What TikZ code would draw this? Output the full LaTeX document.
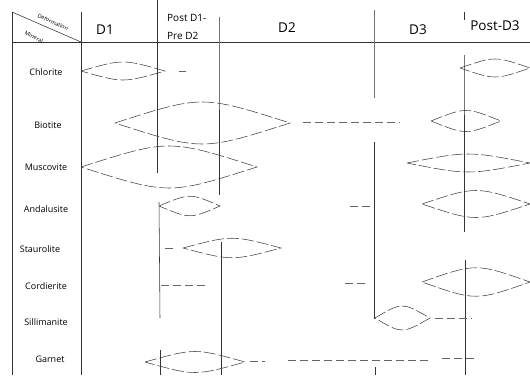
\documentclass[tikz,border=0pt]{standalone}
\usepackage{fontspec}
\setmainfont{Open Sans}
\usetikzlibrary{positioning}

\begin{document}
\begin{tikzpicture}[
    x=1pt, y=-1pt,
    rule/.style={draw=black!80, line width=0.55pt},
    lens/.style={draw=black!75, line width=0.55pt, dash pattern=on 12pt off 3pt},
    trend/.style={draw=black!60, line width=0.6pt, dash pattern=on 8pt off 4pt},
    minlabel/.style={font=\fontsize{9}{10}\selectfont},
    phase/.style={font=\fontsize{13.5}{15}\selectfont},
    subphase/.style={font=\fontsize{10}{12}\selectfont, anchor=west, inner sep=0pt},
    headtag/.style={font=\fontsize{5.5}{6}\selectfont, rotate=-24, inner sep=0pt}
]
    \useasboundingbox (0,0) rectangle (530,375);

    % Header
    \draw[rule] (12,42) -- (530,42);
    \draw[rule] (12,12) -- (81,42);
    \node[headtag] (def) at (53,22) {Deformation};
    \node[headtag] (min) at (34,37) {Mineral};
    \node[phase] (d1) at (105,30) {D1};
    \node[subphase] (post1) at (167,18) {Post D1-};
    \node[subphase] (pre2) at (167,36) {Pre D2};
    \node[phase] (d2) at (287,28) {D2};
    \node[phase] (d3) at (418,30) {D3};
    \node[phase] (postd3) at (495,26) {Post-D3};

    % Mineral labels
    \foreach \name/\x/\y in {Chlorite/46/72, Biotite/48/125, Muscovite/46/167,
        Andalusite/46/209, Staurolite/40/249, Cordierite/46/286,
        Sillimanite/46/322, Garnet/50/359} {
        \node[minlabel] (\name) at (\x,\y) {\name};
    }

    % Column rules
    \draw[rule] (12,12) -- (12,375);
    \draw[rule] (81,12) -- (81,375);
    \draw[rule] (157,0) -- (157,173);
    \draw[rule] (159,202) -- (160,318);
    \draw[rule] (160,350) -- (160,375);
    \draw[rule, draw=black!55] (219,17) -- (219,110);
    \draw[rule] (219,110) -- (219,195);
    \draw[rule] (221,242) -- (221,375);
    \draw[rule, draw=black!55] (374,10) -- (374,98);
    \draw[rule] (374,142) -- (374,319);
    \draw[rule] (375,367) -- (375,375);
    \draw[rule] (464,12) -- (464,20);
    \draw[rule, draw=black!55] (464,55) -- (464,115);
    \draw[rule] (464,115) -- (464,232);
    \draw[rule] (465,260) -- (465,375);

    % Chlorite
    \draw[lens] (81,71) .. controls (123,59) .. (165,71) .. controls (123,83) .. (81,71);
    \draw[trend] (179,71) -- (186,71);
    \draw[lens] (460,68) .. controls (495,56) .. (530,68) .. controls (495,80) .. (460,68);

    % Biotite
    \draw[lens] (115,123) .. controls (202,95) .. (290,123) .. controls (202,151) .. (115,123);
    \draw[trend] (303,122) -- (400,122);
    \draw[lens] (431,121) .. controls (466,107) .. (501,121) .. controls (466,135) .. (431,121);

    % Muscovite
    \draw[lens] (81,167) .. controls (169,139) .. (257,167) .. controls (169,195) .. (81,167);
    \draw[lens] (407,163) .. controls (468,151) .. (530,163) .. controls (468,175) .. (407,163);

    % Andalusite
    \draw[lens] (159,206) .. controls (190,193) .. (220,206) .. controls (190,219) .. (159,206);
    \draw[trend] (350,206) -- (373,206);
    \draw[lens] (422,204) .. controls (476,186) .. (530,204) .. controls (476,222) .. (422,204);

    % Staurolite
    \draw[trend] (165,248) -- (175,248);
    \draw[lens] (183,248) .. controls (232,235) .. (281,248) .. controls (232,261) .. (183,248);

    % Cordierite
    \draw[trend] (161,285) -- (207,285);
    \draw[trend] (345,283) -- (367,283);
    \draw[lens] (422,282) .. controls (476,263) .. (530,282) .. controls (476,301) .. (422,282);

    % Sillimanite
    \draw[lens] (375,318) .. controls (402,302) .. (430,318) .. controls (402,334) .. (375,318);
    \draw[trend] (435,318) -- (472,318);

    % Garnet
    \draw[lens] (145,362) .. controls (195,348) .. (245,362) .. controls (195,376) .. (145,362);
    \draw[trend] (250,361) -- (265,361);
    \draw[trend] (288,360) -- (430,360);
    \draw[trend] (442,358) -- (478,358);
\end{tikzpicture}
\end{document}
